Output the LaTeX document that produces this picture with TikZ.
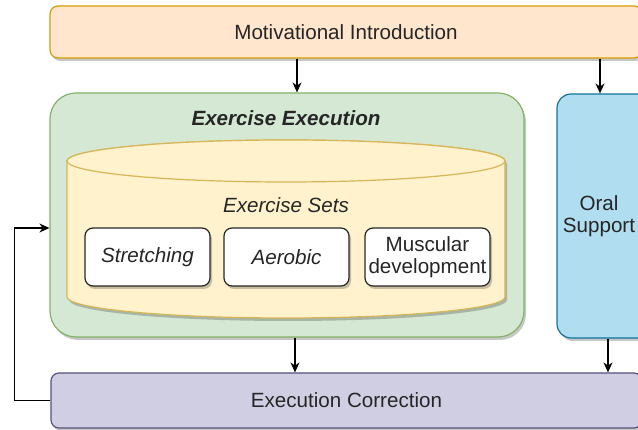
\documentclass[tikz,border=0pt]{standalone}
\usepackage{fontspec}
\setmainfont{Liberation Sans}
\usepackage{tikz}
\usetikzlibrary{positioning,shadows,arrows.meta}
\definecolor{introfill}{HTML}{FFE6CC}
\definecolor{introdraw}{HTML}{D79B00}
\definecolor{execfill}{HTML}{D5E8D4}
\definecolor{execdraw}{HTML}{82B366}
\definecolor{cylfill}{HTML}{FFF2CC}
\definecolor{cyldraw}{HTML}{D6B656}
\definecolor{oralfill}{HTML}{B1DDF0}
\definecolor{oraldraw}{HTML}{10739E}
\definecolor{corrfill}{HTML}{D0CEE2}
\definecolor{corrdraw}{HTML}{56517E}
\newcommand{\diagfont}{\fontsize{20.6}{22.5}\selectfont}
\tikzset {
    my shadow/.style={
        drop shadow={shadow xshift=2pt, shadow yshift=-3pt, fill=black, opacity=0.22},
    },
    style Intro/.style={
        fill=introfill,
        draw=introdraw,
        line width=1.2pt,
        rectangle, % box on top
        rounded corners=8pt,
        my shadow,
        minimum width=592pt,
        minimum height=52pt,
        align=center,
    },
    style Exec/.style={
        fill=execfill,
        draw=execdraw,
        line width=1.2pt,
        rectangle, % big green box
        rounded corners=26pt,
        my shadow,
        minimum width=474pt,
        minimum height=244pt,
    },
    style Cyl/.style={
        fill=cylfill,
        draw=cyldraw,
        line width=1.2pt,
    },
    style Set/.style={
        fill=white,
        draw=black!85,
        line width=1.2pt,
        rectangle, % one exercise set
        rounded corners=8pt,
        my shadow,
        minimum width=125pt,
        minimum height=58pt,
        align=center,
    },
    style Oral/.style={
        fill=oralfill,
        draw=oraldraw,
        line width=1.2pt,
        rectangle, % side box
        rounded corners=14pt,
        my shadow,
        minimum width=102pt,
        minimum height=244pt,
    },
    style Corr/.style={
        fill=corrfill,
        draw=corrdraw,
        line width=1.2pt,
        rectangle, % box at the bottom
        rounded corners=8pt,
        my shadow,
        minimum width=591pt,
        minimum height=55pt,
        align=center,
    },
}

\begin{document}
\begin{tikzpicture}
[x=1pt, y=1pt, font=\diagfont, text=black!85, conn/.style={line width=1.4pt, -{Stealth[length=10pt,width=9pt]}}]
\useasboundingbox (0,0) rectangle (638,430);
\clip (0,0) rectangle (638,430);

\node[style Intro] at (346, 398) (intro) {Motivational Introduction};
\node[style Exec] at (287, 215) (exec) {};
\node[draw=none] at (286, 312) (title) {\bfseries\itshape Exercise Execution};

% cylinder of the exercise sets
\path[style Cyl, my shadow] (67,269) -- (67,133) arc[start angle=180, end angle=360, x radius=219pt, y radius=21pt] -- (505,269) arc[start angle=0, end angle=180, x radius=219pt, y radius=21pt] -- cycle;
\path[style Cyl] (286,269) ellipse [x radius=219pt, y radius=21pt];

\node[draw=none] at (286, 225) (sets) {\itshape Exercise Sets};
\node[style Set] at (147.5, 173) (stretch) {\itshape Stretching};
\node[style Set] at (286.5, 173) (aerobic) {\itshape Aerobic};
\node[style Set] at (427.5, 173) (muscular) {Muscular\\development};

\node[style Oral] at (608, 214) (oral) {};
\node[draw=none, align=center] at (599, 214) (oraltext) {Oral\\Support};
\node[style Corr] at (346.5, 29.5) (corr) {Execution Correction};

\draw[conn] ([xshift=-8pt]oral.north |- intro.south) -- ([xshift=-8pt]oral.north);
\draw[conn] ([xshift=10pt]exec.north |- intro.south) -- ([xshift=10pt]exec.north);
\draw[conn] ([xshift=8pt]exec.south) -- ([xshift=8pt]exec.south |- corr.north);
\draw[conn] (oral.south) -- (oral.south |- corr.north);
\draw[conn] (corr.west) -- ++(-36,0) |- ([yshift=-13pt]exec.west);
\end{tikzpicture}
\end{document}
